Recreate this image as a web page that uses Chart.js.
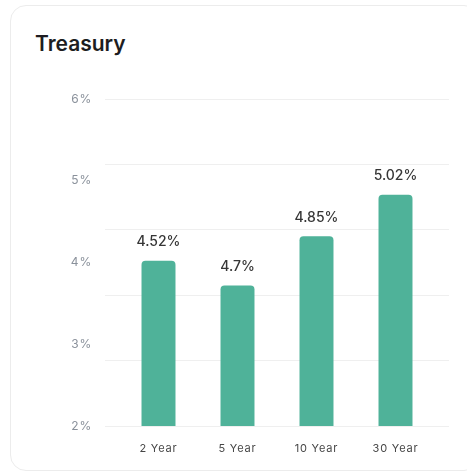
<!DOCTYPE html>
<html>
<head>
<meta charset="utf-8">
<script src="https://cdn.jsdelivr.net/npm/chart.js@4.4.1/dist/chart.umd.min.js"></script>
<style>
  html, body { margin: 0; padding: 0; background: #fff; }
  body { width: 467px; height: 472px; position: relative; overflow: hidden; font-family: Inter, sans-serif; }
  .card { position: absolute; left: 10px; top: 5px; width: 470px; height: 466px; border: 1px solid #ececec; border-radius: 16px; box-sizing: border-box; }
  .title { position: absolute; left: 35px; top: 33px; font: 600 21px/1 Inter, sans-serif; color: #1d1d21; }
  #treasury { position: absolute; left: 0; top: 0; }
</style>
</head>
<body>
<div class="card"></div>
<div class="title">Treasury</div>
<canvas id="treasury" width="467" height="472"></canvas>
<script>
const terms = ['2 Year', '5 Year', '10 Year', '30 Year'];
const barValues = [4.02, 3.72, 4.32, 4.83];
const yieldLabels = ['4.52%', '4.7%', '4.85%', '5.02%'];
const yMin = 2, yMax = 6;

// text above each bar
const barLabels = {
    id: 'barLabels',
    afterDatasetsDraw(chart) {
        const ctx = chart.ctx;
        ctx.save();
        ctx.font = '500 14px Inter';
        ctx.fillStyle = '#363636';
        ctx.textAlign = 'center';
        ctx.textBaseline = 'middle';
        chart.getDatasetMeta(0).data.forEach((bar, i) => {
            ctx.fillText(yieldLabels[i], bar.x, bar.y - 19);
        });
        ctx.restore();
    }
};

// a bit of letter spacing on the axis labels
const spacing = {
    id: 'spacing',
    beforeDraw(chart) { chart.ctx.letterSpacing = '0.8px'; },
    beforeDatasetsDraw(chart) { chart.ctx.letterSpacing = '0px'; }
};

const gridAxis = (position, weight) => ({
    position: position,
    weight: weight,
    min: 0,
    max: 5,
    ticks: { display: false, stepSize: 1 },
    grid: { color: '#efefef', tickLength: 14 },
    border: { display: false },
    afterFit(scale) { scale.width = 14; }
});

const treasury = document.querySelector('#treasury').getContext('2d');
const treasuryChart = new Chart(treasury, {
    type: 'bar',
    data: {
        labels: terms,
        datasets: [{
            data: barValues,
            yAxisID: 'y',
            backgroundColor: '#4fb299',
            borderRadius: 4,
            barPercentage: 0.43,
            categoryPercentage: 1
        }]
    },
    options: {
        responsive: false,
        animation: false,
        layout: { padding: { top: 99, right: 18, bottom: 0, left: 0 } },
        plugins: {
            legend: { display: false },
            tooltip: { enabled: false }
        },
        scales: {
            x: {
                offset: true,
                grid: { display: false },
                border: { display: false },
                ticks: { padding: 8, color: '#464646', font: { family: 'Inter', size: 11 } },
                afterFit(scale) { scale.height = 46; }
            },
            y: {
                position: 'left',
                weight: 1,
                min: yMin,
                max: yMax,
                ticks: {
                    stepSize: 1,
                    padding: 13,
                    color: '#8a919b',
                    font: { family: 'Inter', size: 12 },
                    callback: v => v + '%'
                },
                grid: { display: false, drawTicks: false },
                border: { display: false },
                afterFit(scale) { scale.width = 105; }
            },
            gridLeft: gridAxis('left', 0),
            gridRight: gridAxis('right', 0)
        }
    },
    plugins: [barLabels, spacing]
});
</script>
</body>
</html>
